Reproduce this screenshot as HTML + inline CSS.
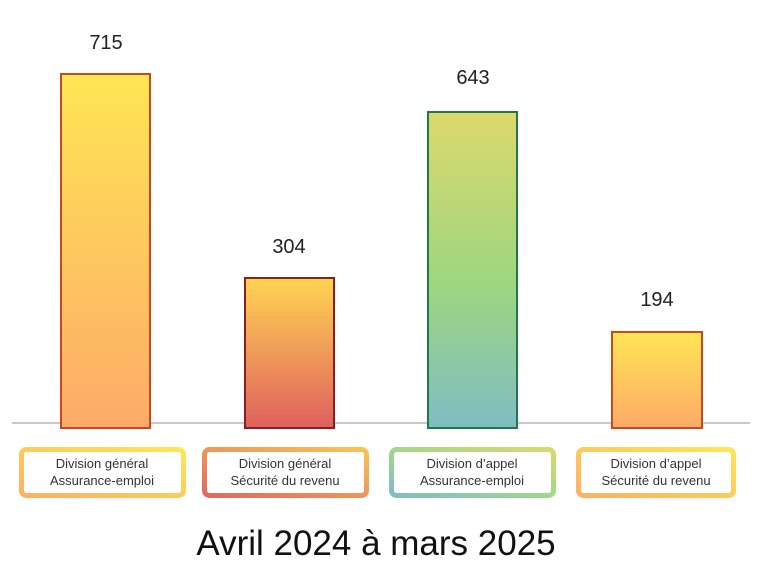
<!DOCTYPE html>
<html><head><meta charset="utf-8"><style>
body{margin:0;width:761px;height:575px;background:#fff;overflow:hidden;font-family:"Liberation Sans","DejaVu Sans",sans-serif;}
</style></head><body>
<svg width="761" height="575" xmlns="http://www.w3.org/2000/svg">
<defs>
<linearGradient id="g1" x1="0" y1="0" x2="0" y2="1"><stop offset="0" stop-color="#FFE654"/><stop offset="1" stop-color="#FDAA68"/></linearGradient>
<linearGradient id="g2" x1="0" y1="0" x2="0" y2="1"><stop offset="0" stop-color="#FFD452"/><stop offset="1" stop-color="#DF605E"/></linearGradient>
<linearGradient id="g3" x1="0" y1="0" x2="0" y2="1"><stop offset="0" stop-color="#DDD86C"/><stop offset="0.55" stop-color="#9DD681"/><stop offset="1" stop-color="#7FBDC4"/></linearGradient>
<linearGradient id="b1" x1="0" y1="1" x2="1" y2="0"><stop offset="0" stop-color="#FDB064"/><stop offset="1" stop-color="#FFE654"/></linearGradient>
<linearGradient id="b2" x1="0" y1="1" x2="1" y2="0"><stop offset="0" stop-color="#DF6A5E"/><stop offset="1" stop-color="#FDC255"/></linearGradient>
<linearGradient id="b3" x1="0" y1="1" x2="1" y2="0"><stop offset="0" stop-color="#80BEC2"/><stop offset="0.5" stop-color="#A2D88A"/><stop offset="1" stop-color="#D8DA6E"/></linearGradient>
</defs>
<line x1="12" y1="423" x2="750" y2="423" stroke="#b5b5b5" stroke-width="1.5"/>
<rect x="61" y="74" width="89" height="354" fill="url(#g1)" stroke="#C84A1A" stroke-width="2"/>
<rect x="245" y="278" width="89" height="150" fill="url(#g2)" stroke="#8B1E1E" stroke-width="2"/>
<rect x="428" y="112" width="89" height="316" fill="url(#g3)" stroke="#1E7B45" stroke-width="2"/>
<rect x="612" y="332" width="90" height="96" fill="url(#g1)" stroke="#C84A1A" stroke-width="2"/>
<g font-size="20" fill="#222" text-anchor="middle">
<text x="106" y="49">715</text>
<text x="289" y="253">304</text>
<text x="473" y="84">643</text>
<text x="657" y="306">194</text>
</g>
<g fill="#fff" stroke-width="5">
<rect x="21.5" y="449.5" width="162" height="46" rx="5" stroke="url(#b1)"/>
<rect x="204.5" y="449.5" width="162" height="46" rx="5" stroke="url(#b2)"/>
<rect x="391.5" y="449.5" width="162" height="46" rx="5" stroke="url(#b3)"/>
<rect x="578.5" y="449.5" width="155" height="46" rx="5" stroke="url(#b1)"/>
</g>
<g font-size="13" fill="#333" text-anchor="middle">
<text x="102" y="468">Division général</text><text x="102" y="485">Assurance-emploi</text>
<text x="285" y="468">Division général</text><text x="285" y="485">Sécurité du revenu</text>
<text x="472" y="468">Division d’appel</text><text x="472" y="485">Assurance-emploi</text>
<text x="656" y="468">Division d’appel</text><text x="656" y="485">Sécurité du revenu</text>
</g>
<text x="376" y="555" font-size="35" fill="#111" text-anchor="middle">Avril 2024 à mars 2025</text>
</svg>
</body></html>
